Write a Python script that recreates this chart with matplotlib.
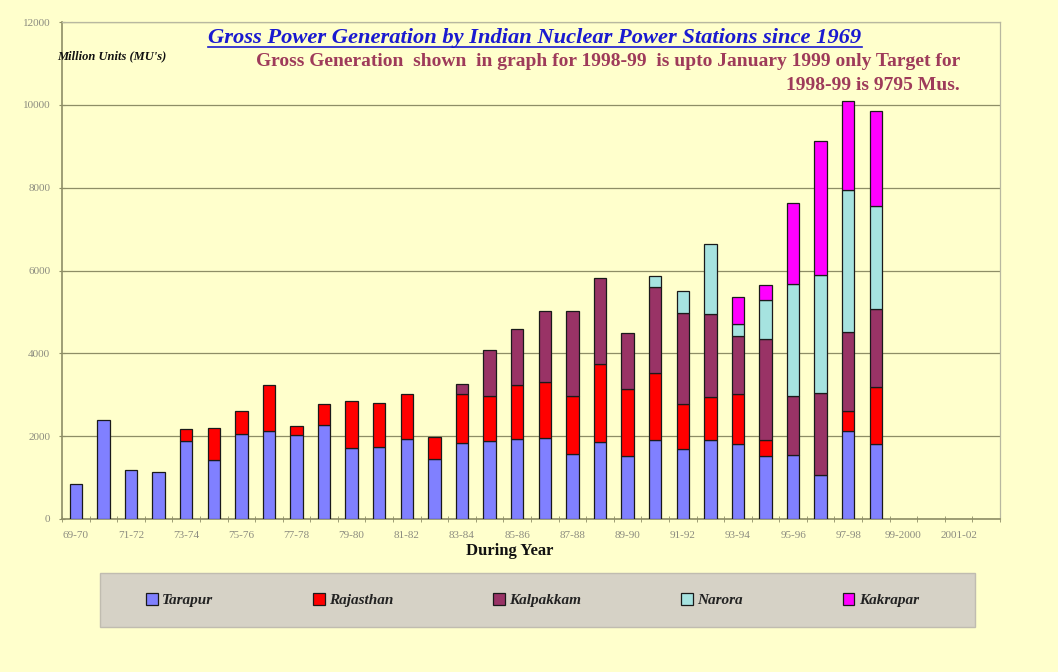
import matplotlib
matplotlib.use("Agg")
import matplotlib.pyplot as plt
from matplotlib.patches import Rectangle
import numpy as np

# financial years, 1969-70 to 2002-03
years = ['69-70', '70-71', '71-72', '72-73', '73-74', '74-75', '75-76', '76-77',
         '77-78', '78-79', '79-80', '80-81', '81-82', '82-83', '83-84', '84-85',
         '85-86', '86-87', '87-88', '88-89', '89-90', '90-91', '91-92', '92-93',
         '93-94', '94-95', '95-96', '96-97', '97-98', '98-99', '99-2000',
         '2000-01', '2001-02', '2002-03']

# gross generation in MUs per station
tarapur = [840, 2400, 1190, 1130, 1890, 1430, 2060, 2130, 2040, 2270,
           1720, 1740, 1930, 1440, 1840, 1890, 1930, 1960, 1580, 1860,
           1510, 1900, 1690, 1900, 1800, 1510, 1550, 1070, 2120, 1800,
           0, 0, 0, 0]
rajasthan = [0, 0, 0, 0, 290, 770, 550, 1110, 210, 500,
             1140, 1070, 1080, 540, 1180, 1090, 1310, 1340, 1390, 1880,
             1620, 1620, 1090, 1040, 1230, 400, 0, 0, 490, 1380,
             0, 0, 0, 0]
kalpakkam = [0, 0, 0, 0, 0, 0, 0, 0, 0, 0,
             0, 0, 0, 0, 240, 1100, 1340, 1720, 2050, 2070,
             1350, 2070, 2200, 2000, 1380, 2430, 1420, 1980, 1900, 1900,
             0, 0, 0, 0]
narora = [0] * 21 + [280, 530, 1700, 310, 950, 2710, 2830, 3440, 2470, 0, 0, 0, 0]
kakrapar = [0] * 24 + [650, 360, 1940, 3240, 2150, 2300, 0, 0, 0, 0]

stations = ['Tarapur', 'Rajasthan', 'Kalpakkam', 'Narora', 'Kakrapar']
series = [tarapur, rajasthan, kalpakkam, narora, kakrapar]
colors = ['#8080FF', '#FF0000', '#993366', '#A6E3E0', '#FF00FF']

bg = '#FFFFCC'
axis_col = '#8E8E66'
tick_col = '#8C8C80'
serif = ['Liberation Serif', 'DejaVu Serif']

fig = plt.figure(figsize=(10.58, 6.72), dpi=100, facecolor=bg)
ax = fig.add_axes([62 / 1058, 1 - 519 / 672, 938 / 1058, 497 / 672])
ax.set_facecolor(bg)

x = np.arange(len(years))
bottom = np.zeros(len(years))
handles = []
for name, vals, c in zip(stations, series, colors):
    vals = np.array(vals, dtype=float)
    keep = vals > 0  # empty segments would show up as flat lines
    b = ax.bar(x[keep], vals[keep], width=0.45, bottom=bottom[keep], color=c,
               edgecolor='#1a1a1a', linewidth=0.9, label=name, zorder=3)
    handles.append(b)
    bottom += vals

ax.set_xlim(-0.5, len(years) - 0.5)
ax.set_ylim(0, 12000)
ax.set_yticks(np.arange(0, 12001, 2000))
ax.yaxis.grid(True, color=axis_col, linewidth=0.9, zorder=0)
ax.set_axisbelow(True)

# labels on every second year, small ticks at category boundaries
ax.set_xticks(x[::2])
ax.set_xticklabels(years[::2])
ax.tick_params(axis='x', length=0, pad=9)
ax.set_xticks(np.arange(-0.5, len(years), 1), minor=True)
ax.tick_params(axis='x', which='minor', length=5, direction='inout',
               color=axis_col)
ax.tick_params(axis='y', length=5, direction='inout', color=axis_col, pad=6)
for lab in ax.get_xticklabels() + ax.get_yticklabels():
    lab.set_fontfamily(serif)
    lab.set_fontsize(8)
    lab.set_color(tick_col)

for side in ['left', 'bottom']:
    ax.spines[side].set_color(axis_col)
    ax.spines[side].set_linewidth(1.2)
for side in ['top', 'right']:
    ax.spines[side].set_color('#B8B8A0')
    ax.spines[side].set_linewidth(0.9)

title = fig.text(535 / 1058, 1 - 38 / 672,
                 'Gross Power Generation by Indian Nuclear Power Stations since 1969',
                 ha='center', va='center', color='#1A1AD0', fontsize=16.2,
                 fontweight='bold', fontstyle='italic', family=serif)
fig.text(960 / 1058, 1 - 61 / 672,
         'Gross Generation  shown  in graph for 1998-99  is upto January 1999 only Target for',
         ha='right', va='center', color='#9E3B5A', fontsize=14,
         fontweight='bold', family=serif)
fig.text(960 / 1058, 1 - 86 / 672, '1998-99 is 9795 Mus.',
         ha='right', va='center', color='#9E3B5A', fontsize=14,
         fontweight='bold', family=serif)
fig.text(57 / 1058, 1 - 56 / 672, "Million Units (MU's)", ha='left', va='center',
         color='#111111', fontsize=9, fontweight='bold', fontstyle='italic',
         family=serif)
fig.text(510 / 1058, 1 - 551 / 672, 'During Year', ha='center', va='center',
         color='#111111', fontsize=12, fontweight='bold', family=serif)

# grey legend panel
fig.add_artist(Rectangle((100 / 1058, 1 - 627 / 672), 875 / 1058, 54 / 672,
                         transform=fig.transFigure, facecolor='#D6D2C6',
                         edgecolor='#C0BCB0', linewidth=1, zorder=1))
leg = fig.legend(handles=handles, labels=stations, ncol=5, mode='expand',
                 loc='center left',
                 bbox_to_anchor=(140 / 1058, 1 - 600 / 672, 785 / 1058, 0),
                 borderaxespad=0, frameon=False,
                 handlelength=0.75, handleheight=0.9, handletextpad=0.3,
                 prop={'family': serif, 'weight': 'bold', 'style': 'italic',
                       'size': 11})
leg.set_zorder(2)
for t in leg.get_texts():
    t.set_color('#222222')

# underline the title
fig.canvas.draw()
bb = title.get_window_extent().transformed(fig.transFigure.inverted())
fig.add_artist(plt.Line2D([bb.x0, bb.x1], [bb.y0 + 0.002, bb.y0 + 0.002],
                          transform=fig.transFigure, color='#1A1AD0',
                          linewidth=1.2))

fig.savefig('out.png', dpi=100, facecolor=bg)
